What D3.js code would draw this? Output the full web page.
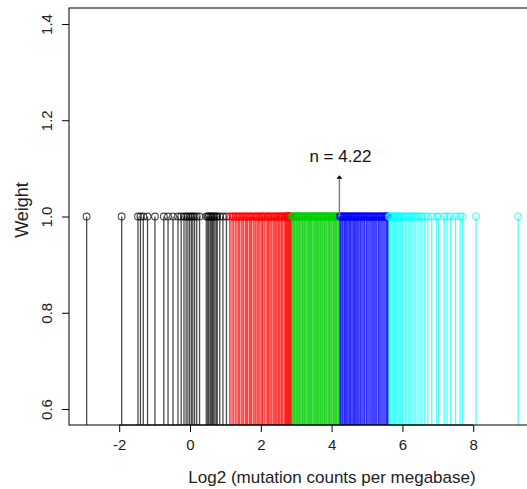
<!DOCTYPE html>
<html>
<head>
<meta charset="utf-8">
<script src="https://cdn.jsdelivr.net/npm/d3@7"></script>
<style>
  body { margin: 0; background: #fff; }
  svg { font-family: "Liberation Sans", Arial, sans-serif; }
</style>
</head>
<body>
<svg id="chart" width="527" height="489"></svg>
<script>
// Log2 mutation counts per megabase, one value per sample, by group
const blackVals = [-2.92, -1.93, -1.47, -1.40, -1.32, -1.20, -0.99, -0.74, -0.62, -0.48, -0.34, -0.25,
  -0.17, -0.11, -0.06, -0.01, 0.04, 0.08, 0.13, 0.19, 0.27, 0.46, 0.50, 0.53, 0.57, 0.60, 0.63,
  0.66, 0.70, 0.74, 0.77, 0.84, 0.93, 1.03];
const redVals = [1.12, 1.16, 1.21, 1.24, 1.29, 1.33, 1.37, 1.40, 1.45, 1.49, 1.52, 1.57, 1.60, 1.63,
  1.68, 1.71, 1.74, 1.79, 1.83, 1.86, 1.90, 1.93, 1.97, 2.01, 2.04, 2.06, 2.10, 2.15, 2.19, 2.21,
  2.24, 2.28, 2.31, 2.35, 2.38, 2.41, 2.44, 2.48, 2.50, 2.53, 2.57, 2.59, 2.62, 2.66, 2.69, 2.71,
  2.72, 2.74, 2.76, 2.78, 2.80, 2.81, 2.83, 2.85, 2.86];
const greenVals = [2.88, 2.90, 2.93, 2.95, 2.97, 3.00, 3.02, 3.04, 3.07, 3.09, 3.11, 3.14, 3.17, 3.18,
  3.21, 3.24, 3.25, 3.28, 3.31, 3.33, 3.35, 3.38, 3.40, 3.42, 3.44, 3.47, 3.50, 3.52, 3.54, 3.57,
  3.59, 3.61, 3.63, 3.66, 3.69, 3.70, 3.73, 3.75, 3.78, 3.80, 3.82, 3.85, 3.87, 3.90, 3.92, 3.94,
  3.96, 3.99, 4.01, 4.04, 4.06, 4.08, 4.11, 4.13, 4.15, 4.18, 4.20];
const blueVals = [4.23, 4.25, 4.27, 4.30, 4.32, 4.35, 4.37, 4.39, 4.42, 4.44, 4.47, 4.50, 4.52, 4.54,
  4.57, 4.60, 4.62, 4.65, 4.67, 4.70, 4.73, 4.75, 4.78, 4.81, 4.83, 4.86, 4.89, 4.92, 4.94, 4.98,
  5.00, 5.03, 5.06, 5.09, 5.12, 5.15, 5.18, 5.21, 5.24, 5.27, 5.31, 5.33, 5.36, 5.39, 5.42, 5.45,
  5.48, 5.51, 5.54, 5.56, 5.58, 5.60];
const cyanVals = [5.62, 5.65, 5.68, 5.71, 5.74, 5.78, 5.80, 5.84, 5.88, 5.91, 5.95, 6.00, 6.04, 6.09,
  6.13, 6.18, 6.22, 6.27, 6.33, 6.38, 6.44, 6.50, 6.55, 6.63, 6.72, 6.83, 6.97, 7.02, 7.18, 7.26,
  7.36, 7.50, 7.63, 7.70, 8.08, 9.27];

const groupColors = ["#000000", "#ff0000", "#00cd00", "#0000ff", "#00ffff"];
const groupVals = [blackVals, redVals, greenVals, blueVals, cyanVals];

const xTicks = [-2, 0, 2, 4, 6, 8];
const yTicks = [0.6, 0.8, 1.0, 1.2, 1.4];
const weight = 1.0;
const nValue = 4.22;

const svg = d3.select("#chart");

// plot region (right edge runs past the window, as in the original)
const plotLeft = 69, plotRight = 595, plotTop = 8, plotBottom = 425;

const x = d3.scaleLinear().domain([-3.418, 11.44]).range([plotLeft, plotRight]);
const y = d3.scaleLinear().domain([0.5667, 1.4333]).range([plotBottom, plotTop]);

svg.append("clipPath").attr("id", "clip")
  .append("rect")
  .attr("x", plotLeft).attr("y", plotTop)
  .attr("width", plotRight - plotLeft).attr("height", plotBottom - plotTop);

const plot = svg.append("g").attr("clip-path", "url(#clip)");

// stems and open circles for each group
groupVals.forEach(function(vals, i) {
  const g = plot.append("g");
  g.selectAll("line")
    .data(vals)
    .enter().append("line")
    .attr("x1", d => x(d))
    .attr("x2", d => x(d))
    .attr("y1", y(weight))
    .attr("y2", plotBottom + 2)
    .attr("stroke", groupColors[i])
    .attr("stroke-opacity", 0.7)
    .attr("stroke-width", 1.3);
  g.selectAll("circle")
    .data(vals)
    .enter().append("circle")
    .attr("cx", d => x(d))
    .attr("cy", y(weight))
    .attr("r", 3.4)
    .attr("fill", "none")
    .attr("stroke", groupColors[i])
    .attr("stroke-opacity", 0.7)
    .attr("stroke-width", 1.1);
});

// box
svg.append("rect")
  .attr("x", plotLeft).attr("y", plotTop)
  .attr("width", plotRight - plotLeft).attr("height", plotBottom - plotTop)
  .attr("fill", "none")
  .attr("stroke", "#000")
  .attr("stroke-width", 1);

// x axis
const xAxis = svg.append("g")
  .attr("transform", "translate(0," + plotBottom + ")")
  .call(d3.axisBottom(x).tickValues(xTicks).tickSize(7).tickPadding(7)
    .tickFormat(d => String(d)));
xAxis.select(".domain").remove();
xAxis.append("line")
  .attr("x1", x(xTicks[0])).attr("x2", x(xTicks[xTicks.length - 1]))
  .attr("stroke", "#000");
xAxis.selectAll("text")
  .attr("fill", "#222")
  .style("font-size", "15px");

// y axis with rotated labels
const yAxis = svg.append("g")
  .attr("transform", "translate(" + plotLeft + ",0)")
  .call(d3.axisLeft(y).tickValues(yTicks).tickSize(7).tickFormat(d3.format(".1f")));
yAxis.select(".domain").remove();
yAxis.selectAll("text")
  .attr("x", null).attr("dy", null)
  .attr("text-anchor", "middle")
  .attr("transform", "translate(-17,0) rotate(-90)")
  .attr("fill", "#222")
  .style("font-size", "15px");

// axis titles
svg.append("text")
  .attr("x", 332)
  .attr("y", 483)
  .attr("text-anchor", "middle")
  .style("font-size", "17px")
  .attr("fill", "#222")
  .text("Log2 (mutation counts per megabase)");

svg.append("text")
  .attr("transform", "translate(28,210) rotate(-90)")
  .attr("text-anchor", "middle")
  .style("font-size", "18px")
  .attr("fill", "#222")
  .text("Weight");

// arrow marking n
const ax = x(nValue);
svg.append("line")
  .attr("x1", ax).attr("x2", ax)
  .attr("y1", y(weight)).attr("y2", y(1.08))
  .attr("stroke", "#808080")
  .attr("stroke-width", 1.5);
svg.append("path")
  .attr("d", d3.line()([[ax - 3, y(1.0785)], [ax, y(1.0855)], [ax + 3, y(1.0785)]]) + "Z")
  .attr("fill", "#000");

svg.append("text")
  .attr("x", ax + 1)
  .attr("y", y(1.1135))
  .attr("text-anchor", "middle")
  .style("font-size", "17px")
  .attr("fill", "#111")
  .text("n = " + nValue);
</script>
</body>
</html>
